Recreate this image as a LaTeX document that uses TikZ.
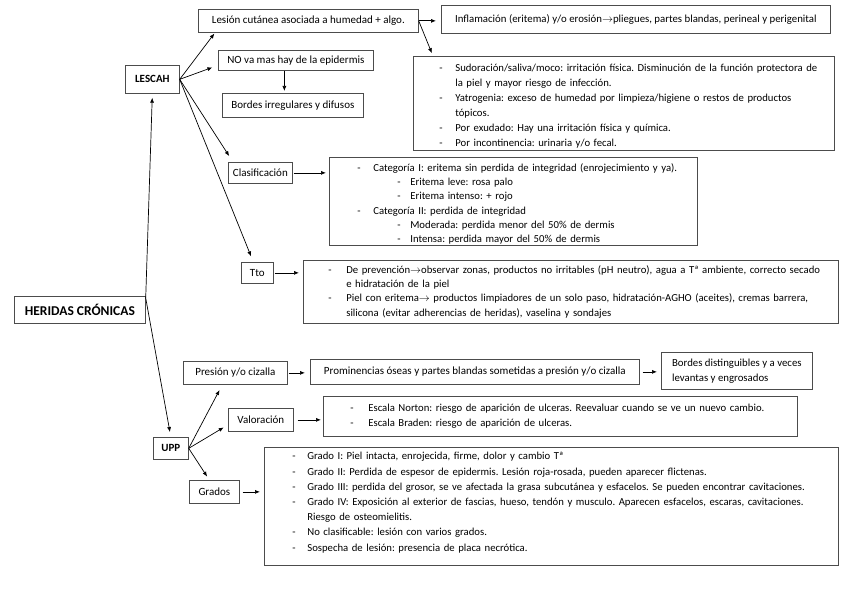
\documentclass[tikz,border=0pt]{standalone}
\usepackage{fontspec}
\setmainfont{Carlito}
\usetikzlibrary{arrows.meta}
\newcommand\dashitem[3]{\hspace*{#1pt}\makebox[#2pt][l]{-}\mbox{#3}}
\newcommand\contline[2]{\hspace*{#1pt}\mbox{#2}}
\begin{document}
\frenchspacing
\begin{tikzpicture}[x=1pt,y=-1pt,
  bx/.style={draw=black!70, line width=0.7pt, rectangle, inner sep=0pt, anchor=north west,
    font=\fontsize{11}{14}\selectfont, align=center},
  lst/.style={bx, align=left},
  bold/.style={font=\fontsize{11}{13}\selectfont\bfseries},
  arr/.style={-{Latex[length=5pt,width=4pt]}, line width=0.7pt, black},
]
\useasboundingbox (0,0) rectangle (848,599);

% ---- LESCAH branch
\node[bx, bold, minimum width=54pt, minimum height=28pt] (lescah) at (125,65) {LESCAH};
\node[bx, minimum width=220pt, minimum height=23pt] (lesion) at (198,9) {Lesión cutánea asociada a humedad + algo.};
\node[bx, font=\fontsize{10.8}{14}\selectfont, minimum width=389pt, minimum height=28pt] (infl) at (441,5) {Inflamación (eritema) y/o erosión$\rightarrow$pliegues, partes blandas, perineal y perigenital};
\node[lst, font=\fontsize{10.7}{15}\selectfont, text width=421pt, minimum height=94pt] (list1) at (413,56) {%
\rule{0pt}{13.5pt}\dashitem{26}{16}{Sudoración/saliva/moco: irritación física. Disminución de la función protectora de}\\
\contline{42}{la piel y mayor riesgo de infección.}\\
\dashitem{26}{16}{Yatrogenia: exceso de humedad por limpieza/higiene o restos de productos}\\
\contline{42}{tópicos.}\\
\dashitem{26}{16}{Por exudado: Hay una irritación física y química.}\\
\dashitem{26}{16}{Por incontinencia: urinaria y/o fecal.}};
\node[bx, minimum width=155pt, minimum height=20pt] (noepi) at (218,50) {NO va mas hay de la epidermis};
\node[bx, minimum width=141pt, minimum height=24pt] (bordes1) at (222,93) {Bordes irregulares y difusos};
\node[bx, minimum width=64pt, minimum height=21pt] (clasif) at (228,162) {Clasificación};
\node[lst, font=\fontsize{10.7}{14.2}\selectfont, text width=368pt, minimum height=88pt] (list2) at (329,157) {%
\rule{0pt}{13pt}\dashitem{28}{16}{Categoría I: eritema sin perdida de integridad (enrojecimiento y ya).}\\
\dashitem{68}{13}{Eritema leve: rosa palo}\\
\dashitem{68}{13}{Eritema intenso: + rojo}\\
\dashitem{28}{16}{Categoría II: perdida de integridad}\\
\dashitem{68}{13}{Moderada: perdida menor del 50\% de dermis}\\
\dashitem{68}{13}{Intensa: perdida mayor del 50\% de dermis}};
\node[bx, minimum width=32pt, minimum height=21pt] (tto) at (241,262) {Tto};
\node[lst, font=\fontsize{10.7}{14.3}\selectfont, text width=535pt, minimum height=63pt] (list3) at (303,260) {%
\dashitem{25}{18}{De prevención$\rightarrow$observar zonas, productos no irritables (pH neutro), agua a Tª ambiente, correcto secado}\\
\contline{43}{e hidratación de la piel}\\
\dashitem{25}{18}{Piel con eritema$\rightarrow$ productos limpiadores de un solo paso, hidratación-AGHO (aceites), cremas barrera,}\\
\contline{43}{silicona (evitar adherencias de heridas), vaselina y sondajes}};

% ---- root
\node[bx, font=\fontsize{13.5}{15}\selectfont\bfseries, minimum width=131pt, minimum height=27pt] (heridas) at (14,296) {HERIDAS CRÓNICAS};

% ---- UPP branch
\node[bx, bold, minimum width=35pt, minimum height=22pt] (upp) at (153,437) {UPP};
\node[bx, minimum width=104pt, minimum height=23pt] (presion) at (183,361) {Presión y/o cizalla};
\node[bx, minimum width=329pt, minimum height=25pt] (promin) at (310,359) {Prominencias óseas y partes blandas sometidas a presión y/o cizalla};
\node[bx, align=left, font=\fontsize{10.8}{15}\selectfont, minimum width=151pt, minimum height=37pt] (bordes2) at (661,352) {Bordes distinguibles y a veces\\levantas y engrosados};
\node[bx, minimum width=65pt, minimum height=23pt] (valor) at (228,408) {Valoración};
\node[lst, font=\fontsize{10.7}{14.3}\selectfont, text width=474pt, minimum height=40pt] (list4) at (323,396) {%
\dashitem{27}{18}{Escala Norton: riesgo de aparición de ulceras. Reevaluar cuando se ve un nuevo cambio.}\\
\dashitem{27}{18}{Escala Braden: riesgo de aparición de ulceras.}};
\node[bx, minimum width=50pt, minimum height=23pt] (grados) at (189,480) {Grados};
\node[lst, font=\fontsize{10.7}{15.2}\selectfont, text width=574pt, minimum height=118pt] (list5) at (264,447) {%
\dashitem{28}{15}{Grado I: Piel intacta, enrojecida, firme, dolor y cambio Tª}\\
\dashitem{28}{15}{Grado II: Perdida de espesor de epidermis. Lesión roja-rosada, pueden aparecer flictenas.}\\
\dashitem{28}{15}{Grado III: perdida del grosor, se ve afectada la grasa subcutánea y esfacelos. Se pueden encontrar cavitaciones.}\\
\dashitem{28}{15}{Grado IV: Exposición al exterior de fascias, hueso, tendón y musculo. Aparecen esfacelos, escaras, cavitaciones.}\\
\contline{43}{Riesgo de osteomielitis.}\\
\dashitem{28}{15}{No clasificable: lesión con varios grados.}\\
\dashitem{28}{15}{Sospecha de lesión: presencia de placa necrótica.}\\[-6pt]\mbox{}};

% ---- connectors
\draw[arr, shorten >=4pt] ([yshift=-2pt]heridas.north east) -- (lescah.south);
\draw[arr, shorten >=5pt] ([yshift=-2pt]heridas.north east) -- (upp.north);

\draw[arr, shorten >=1pt] (lescah.east) -- ([xshift=17pt]lesion.south west);
\draw[arr, shorten >=6pt] (lescah.east) -- ([yshift=-5pt]noepi.west);
\draw[arr, shorten >=7pt] (lescah.east) -- ([xshift=5pt]clasif.north west);
\draw[arr, shorten >=6pt] (lescah.east) -- ([xshift=-4pt]tto.north);

\draw[arr, shorten >=2pt] ([xshift=-11.5pt]noepi.south) -- ([xshift=-8.5pt]bordes1.north);
\draw[arr, shorten >=5pt] (lesion.east) -- (lesion.east -| infl.west);
\draw[arr, shorten >=3pt] (lesion.east) -- ([xshift=20pt]list1.north west);
\draw[arr, shorten <=1pt, shorten >=3pt] (clasif.east) -- (clasif.east -| list2.west);
\draw[arr, shorten <=1pt, shorten >=4pt] (tto.east) -- (tto.east -| list3.west);

\draw[arr, shorten >=6pt] (upp.east) -- ([xshift=-13pt]presion.south);
\draw[arr, shorten >=5pt] (upp.east) -- ([yshift=-5pt]valor.west);
\draw[arr, shorten >=4pt] (upp.east) -- ([xshift=-5pt]grados.north);
\draw[arr, shorten <=1pt, shorten >=5pt] (presion.east) -- (presion.east -| promin.west);
\draw[arr, shorten <=3pt, shorten >=4pt] (promin.east) -- (promin.east -| bordes2.west);
\draw[arr, shorten <=4pt, shorten >=2pt] (valor.east) -- (valor.east -| list4.west);
\draw[arr, shorten <=3pt, shorten >=4pt] (grados.east) -- (grados.east -| list5.west);
\end{tikzpicture}
\end{document}
